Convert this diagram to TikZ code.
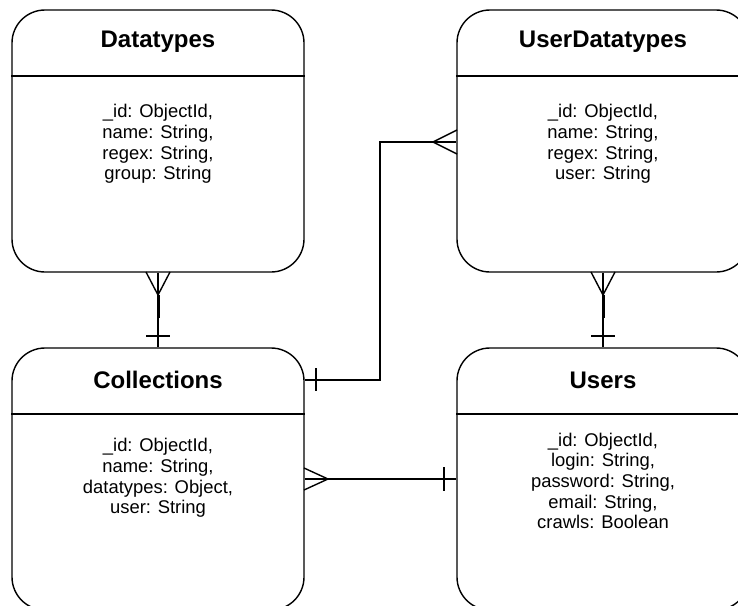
\documentclass[tikz,border=0pt]{standalone}
\usepackage{fontspec}
\setmainfont{Liberation Sans}
\begin{document}
\begin{tikzpicture}[x=1pt,y=-1pt,
  entity/.style={draw, line width=1.4pt, rounded corners=33pt,
    minimum width=292pt, minimum height=262pt, inner sep=0pt},
  etitle/.style={font=\fontsize{24}{28}\selectfont\bfseries, inner sep=0pt},
  ebody/.style={font=\fontsize{18.4}{20.6}\selectfont, align=center, inner sep=0pt},
  rel/.style={line width=1.4pt},
  relthick/.style={line width=3pt}]
\useasboundingbox (0,0) rectangle (738,605);
\clip (0,0) rectangle (738,605);

% entity boxes
\node[entity] (dt)  at (158,141) {};
\node[entity] (udt) at (603,141) {};
\node[entity] (col) at (158,479) {};
\node[entity] (usr) at (603,479) {};

% header separators
\draw[rel] (dt.west |- 0,76)   -- (dt.east |- 0,76);
\draw[rel] (udt.west |- 0,76)  -- (udt.east |- 0,76);
\draw[rel] (col.west |- 0,414) -- (col.east |- 0,414);
\draw[rel] (usr.west |- 0,414) -- (usr.east |- 0,414);

% titles
\node[etitle] (dtT)  at (158,42)  {Datatypes};
\node[etitle] (udtT) at (603,42)  {UserDatatypes};
\node[etitle] (colT) at (158,380) {Collections};
\node[etitle] (usrT) at (603,380) {Users};

% fields
\node[ebody] (dtB)  at (158,144) {\_id: ObjectId,\\name: String,\\regex: String,\\group: String};
\node[ebody] (udtB) at (603,144) {\_id: ObjectId,\\name: String,\\regex: String,\\user: String};
\node[ebody] (colB) at (158,478) {\_id: ObjectId,\\name: String,\\datatypes: Object,\\user: String};
\node[ebody] (usrB) at (603,481) {\_id: ObjectId,\\login: String,\\password: String,\\email: String,\\crawls: Boolean};

% Datatypes (many) -- Collections (one)
\draw[rel] (dt.south) -- (col.north);
\draw[rel] (146,272) -- (158,295) -- (170,272);
\draw[relthick] (158,295) -- (158,318);
\draw[rel] (146,336) -- (170,336);

% UserDatatypes (many) -- Users (one)
\draw[rel] (udt.south) -- (usr.north);
\draw[rel] (591,272) -- (603,295) -- (615,272);
\draw[relthick] (603,295) -- (603,318);
\draw[rel] (591,336) -- (615,336);

% Collections (one) -- UserDatatypes (many)
\coordinate (bend1) at (380,380);
\draw[rel] (col.east |- bend1) -- (bend1) |- (udt.west |- 0,142);
\draw[rel] (316,368) -- (316,391);
\draw[rel] (457,130) -- (433,142) -- (457,154);

% Collections (many) -- Users (one)
\draw[rel] (col.east) -- (usr.west);
\draw[rel] (304,468) -- (328,479) -- (304,490);
\draw[rel] (444,467) -- (444,491);
\end{tikzpicture}
\end{document}
